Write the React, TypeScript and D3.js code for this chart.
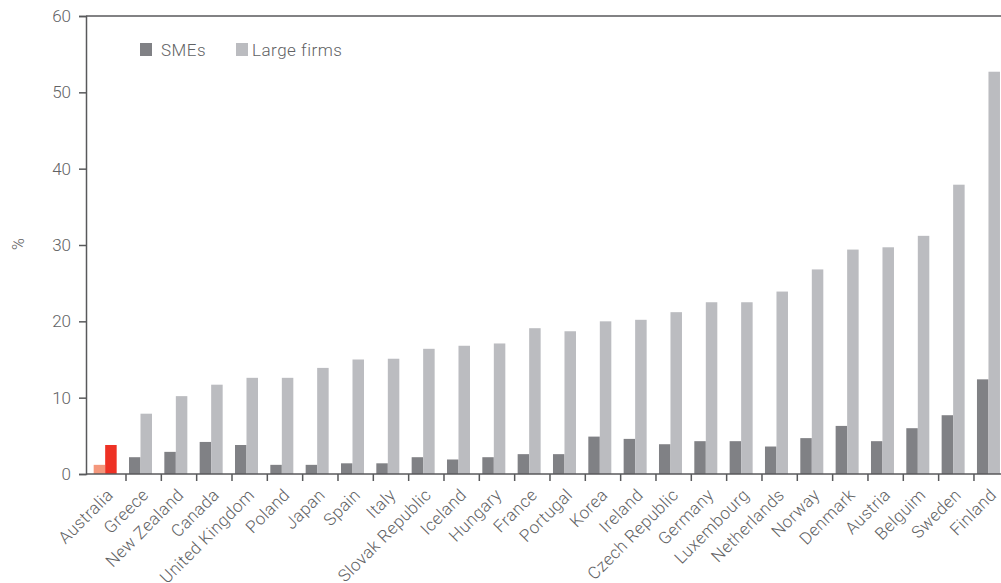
import { useEffect, useRef } from 'react'
import * as d3 from 'd3'

const countries = [
  'Australia', 'Greece', 'New Zealand', 'Canada', 'United Kingdom', 'Poland', 'Japan', 'Spain',
  'Italy', 'Slovak Republic', 'Iceland', 'Hungary', 'France', 'Portugal', 'Korea', 'Ireland',
  'Czech Republic', 'Germany', 'Luxembourg', 'Netherlands', 'Norway', 'Denmark', 'Austria',
  'Belguim', 'Sweden', 'Finland',
]
const smes = [
  1.2, 2.2, 2.9, 4.2, 3.8, 1.2, 1.2, 1.4, 1.4, 2.2, 1.9, 2.2, 2.6, 2.6, 4.9, 4.6,
  3.9, 4.3, 4.3, 3.6, 4.7, 6.3, 4.3, 6.0, 7.7, 12.4,
]
const largeFirms = [
  3.8, 7.9, 10.2, 11.7, 12.6, 12.6, 13.9, 15.0, 15.1, 16.4, 16.8, 17.1, 19.1, 18.7, 20.0, 20.2,
  21.2, 22.5, 22.5, 23.9, 26.8, 29.4, 29.7, 31.2, 37.9, 52.7,
]
const yTicks = [0, 10, 20, 30, 40, 50, 60]
const seriesNames = ['SMEs', 'Large firms']

const W = 1001
const H = 583
const AXIS_X = 86
const FONT = 'Roboto, "DejaVu Sans", sans-serif'
const TEXT = '#616264'
const AXIS = '#58595b'
const SME_COLOR = '#808185'
const LARGE_COLOR = '#bbbcc0'
const HL_SME = '#f4977c'
const HL_LARGE = '#ee3124'

export default function App() {
  const svgRef = useRef<SVGSVGElement>(null)

  useEffect(() => {
    const svg = d3.select(svgRef.current!)
    svg.selectAll('*').remove()

    const x = d3.scaleBand<string>().domain(countries).range([90.67, 1009.3]).padding(0)
    const x1 = d3.scaleBand<string>().domain(seriesNames).range([3, 26]).padding(0)
    const y = d3.scaleLinear([0, 60], [474, 16])

    // ── Bars ──────────────────────────────────────────────────────────────
    const g = svg.append('g')
    countries.forEach((c, i) => {
      const vals = [smes[i], largeFirms[i]]
      vals.forEach((v, j) => {
        const hl = c === 'Australia'
        const fill = j === 0 ? (hl ? HL_SME : SME_COLOR) : (hl ? HL_LARGE : LARGE_COLOR)
        g.append('rect')
          .attr('x', x(c)! + x1(seriesNames[j])!)
          .attr('y', y(v))
          .attr('width', x1.bandwidth())
          .attr('height', y(0) - y(v))
          .attr('fill', fill)
      })
    })

    // ── Frame: top line, left axis, bottom axis ───────────────────────────
    svg.append('line')
      .attr('x1', AXIS_X).attr('x2', W).attr('y1', y(60)).attr('y2', y(60))
      .attr('stroke', AXIS).attr('stroke-width', 1.5)

    svg.append('g')
      .attr('transform', `translate(${AXIS_X},0)`)
      .call(d3.axisLeft(y).tickValues(yTicks).tickSize(7).tickPadding(8).tickFormat(d3.format('d')))
      .call(ag => ag.select('.domain').attr('stroke', AXIS).attr('stroke-width', 1.5))
      .call(ag => ag.selectAll('.tick line').attr('stroke', AXIS).attr('stroke-width', 1.5))
      .call(ag => ag.selectAll('text')
        .attr('fill', TEXT).attr('font-size', 17).attr('font-family', FONT).attr('font-weight', 300))

    const xa = svg.append('g')
    xa.append('line')
      .attr('x1', AXIS_X).attr('x2', W).attr('y1', y(0)).attr('y2', y(0))
      .attr('stroke', AXIS).attr('stroke-width', 1.5)
    countries.slice(1).forEach(c => {
      xa.append('line')
        .attr('x1', x(c)!).attr('x2', x(c)!)
        .attr('y1', y(0)).attr('y2', y(0) + 7)
        .attr('stroke', AXIS).attr('stroke-width', 1.5)
    })
    countries.forEach(c => {
      const cx = x(c)! + 23.5
      const cy = 496
      xa.append('text')
        .attr('transform', `translate(${cx},${cy}) rotate(-45)`)
        .attr('text-anchor', 'end')
        .attr('fill', TEXT).attr('font-size', 17).attr('font-family', FONT).attr('font-weight', 300)
        .attr('letter-spacing', 0.4)
        .text(c)
    })

    // Y label
    svg.append('text')
      .attr('transform', 'translate(24,244) rotate(-90)')
      .attr('text-anchor', 'middle')
      .attr('fill', TEXT).attr('font-size', 16).attr('font-family', FONT).attr('font-weight', 300)
      .text('%')

    // ── Legend ────────────────────────────────────────────────────────────
    const legendX = [140, 236]
    seriesNames.forEach((s, j) => {
      svg.append('rect')
        .attr('x', legendX[j]).attr('y', 43).attr('width', 12).attr('height', 13)
        .attr('fill', j === 0 ? SME_COLOR : LARGE_COLOR)
      svg.append('text')
        .attr('x', legendX[j] + (j === 0 ? 21 : 16)).attr('y', 56)
        .attr('fill', TEXT).attr('font-size', 17).attr('font-family', FONT).attr('font-weight', 300)
        .attr('letter-spacing', 0.5)
        .text(s)
    })
  }, [])

  return (
    <svg
      ref={svgRef}
      width={W}
      height={H}
      style={{ position: 'absolute', left: 0, top: 0, background: '#fff' }}
    />
  )
}
